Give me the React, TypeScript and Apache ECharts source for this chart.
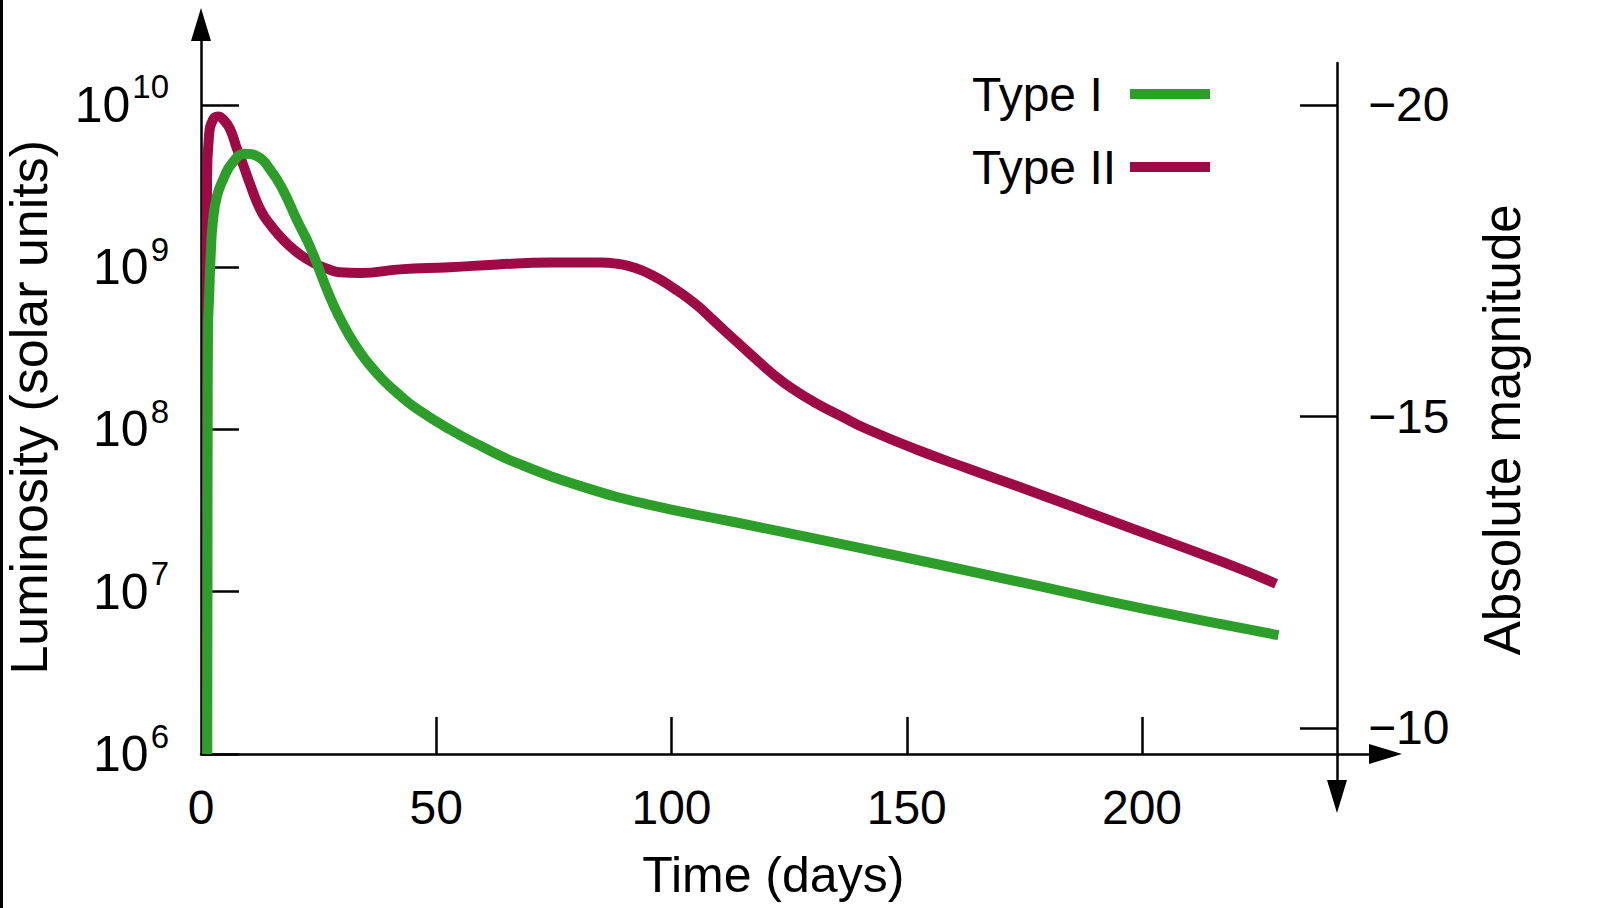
import React, { useEffect, useRef } from 'react';
import * as echarts from 'echarts';

// ---- data (days, luminosity in solar units) ----
const typeIDays = [1.3, 1.35, 1.4, 1.5, 1.7, 2.1, 2.55, 3.4, 4.7, 6.6, 9.35, 12.1, 14.7, 17.4, 20.4, 23.2, 27.4, 29.5, 31.7, 33.8, 35.9, 38.7, 42.3, 45.9, 52.9, 59.9, 67.2, 81.2, 95.4, 113, 130, 150, 174, 200, 229];
const typeILum = [1.0e6, 1.0e7, 1.0e8, 4.3e8, 6.3e8, 1.26e9, 1.95e9, 2.75e9, 3.47e9, 4.37e9, 5.0e9, 4.8e9, 4.0e9, 3.0e9, 1.95e9, 1.33e9, 6.56e8, 4.86e8, 3.72e8, 2.99e8, 2.49e8, 2.02e8, 1.62e8, 1.34e8, 1.0e8, 7.8e7, 6.2e7, 4.43e7, 3.43e7, 2.7e7, 2.14e7, 1.62e7, 1.15e7, 7.9e6, 5.4e6];

const typeIIDays = [1.3, 1.3, 1.28, 1.28, 1.7, 2.55, 3.6, 4.9, 6.2, 7.65, 8.9, 10.4, 11.9, 13, 14, 16.2, 18.5, 21, 24, 26.8, 29.5, 33.8, 42.3, 52.9, 63, 74.2, 84.8, 88.5, 91.8, 96, 100.5, 105, 109, 113.3, 117.5, 122, 126, 130.6, 136, 141.4, 152.2, 163, 174, 196, 217.5, 228.5];
const typeIILum = [1.0e6, 1.0e8, 1.1e9, 3.47e9, 6.46e9, 8.13e9, 8.5e9, 8.04e9, 7.08e9, 5.37e9, 4.32e9, 3.27e9, 2.51e9, 2.16e9, 1.95e9, 1.62e9, 1.38e9, 1.2e9, 1.06e9, 9.8e8, 9.3e8, 9.2e8, 9.7e8, 1.0e9, 1.04e9, 1.07e9, 1.07e9, 1.05e9, 1.0e9, 8.9e8, 7.41e8, 5.96e8, 4.68e8, 3.59e8, 2.79e8, 2.14e8, 1.76e8, 1.46e8, 1.21e8, 1.01e8, 7.5e7, 5.75e7, 4.42e7, 2.57e7, 1.51e7, 1.12e7];

const seriesNames = ['Type I', 'Type II'];
const timeTickValues = [50, 100, 150, 200];
const timeLabelValues = [0, 50, 100, 150, 200];
const luminosityTicks = [1e6, 1e7, 1e8, 1e9, 1e10];
const magnitudeTicks = [-20, -15, -10];

const FONT = "'Liberation Sans', Arial, Helvetica, sans-serif";
const GREEN = '#2e9e2b';
const RED = '#9e0a45';
const INK = '#000000';

export default function App() {
  const ref = useRef<HTMLDivElement>(null);

  useEffect(() => {
    if (!ref.current) return;
    const chart = echarts.init(ref.current, null, { renderer: 'svg' });

    const option: any = {
      animation: false,
      backgroundColor: '#ffffff',
      textStyle: { fontFamily: FONT, color: INK },
      graphic: [
        { type: 'rect', left: 0, top: 0, shape: { width: 3, height: 908 }, style: { fill: '#000' }, silent: true },
      ],
      legend: {
        orient: 'vertical',
        left: 967,
        top: 65,
        align: 'right',
        icon: 'rect',
        itemWidth: 80,
        itemHeight: 10,
        itemGap: 25,
        selectedMode: false,
        data: seriesNames,
        formatter: (n: string) => `{t|${n}}`,
        textStyle: {
          color: INK,
          fontFamily: FONT,
          fontSize: 48,
          rich: {
            t: { width: 153, align: 'left', fontSize: 48, lineHeight: 50, fontFamily: FONT, color: INK },
          },
        },
      },
      grid: [
        { left: 201, top: 24.5, width: 1184.5, height: 729.5, containLabel: false, outerBoundsMode: 'none' },
        { left: 1290, top: 63, width: 47, height: 733.5, containLabel: false, outerBoundsMode: 'none' },
      ],
      xAxis: [
        {
          gridIndex: 0,
          type: 'value',
          min: 0,
          max: 251.75,
          name: 'Time (days)',
          nameLocation: 'middle',
          nameGap: 96,
          nameMoveOverlap: false,
          nameTextStyle: { fontSize: 50, fontFamily: FONT, color: INK, padding: [0, 40, 0, 0] },
          axisLine: { show: true, onZero: false, lineStyle: { color: INK, width: 2.5 }, symbol: ['none', 'triangle'], symbolSize: [20, 33] },
          axisTick: { show: true, inside: true, length: 37, customValues: timeTickValues, lineStyle: { color: INK, width: 2.5 } },
          axisLabel: { show: true, margin: 29, fontSize: 48, fontFamily: FONT, color: INK, customValues: timeLabelValues },
          splitLine: { show: false },
        },
        { gridIndex: 1, type: 'value', min: 0, max: 1, show: false },
      ],
      yAxis: [
        {
          gridIndex: 0,
          type: 'log',
          logBase: 10,
          position: 'left',
          min: 1e6,
          max: 3.133e10,
          name: 'Luminosity (solar units)',
          nameLocation: 'middle',
          nameGap: 146,
          nameRotate: 90,
          nameMoveOverlap: false,
          nameTextStyle: { fontSize: 52, fontFamily: FONT, color: INK, padding: [0, 36, 0, 0] },
          axisLine: { show: true, onZero: false, lineStyle: { color: INK, width: 2.5 }, symbol: ['none', 'triangle'], symbolSize: [20, 33] },
          axisTick: { show: true, inside: true, length: 38, customValues: luminosityTicks, lineStyle: { color: INK, width: 2.5 } },
          axisLabel: {
            show: true,
            margin: 32,
            customValues: luminosityTicks,
            formatter: (v: number) => `{b|10}{e|${Math.round(Math.log10(v))}}`,
            rich: {
              b: { fontSize: 50, lineHeight: 69, fontFamily: FONT, color: INK, verticalAlign: 'middle' },
              e: { fontSize: 33, lineHeight: 33, fontFamily: FONT, color: INK, verticalAlign: 'top', padding: [0, 0, 0, 2] },
            },
          },
          splitLine: { show: false },
        },
        {
          gridIndex: 1,
          type: 'value',
          position: 'right',
          // axis value = −(absolute magnitude), so −20 sits at the top
          min: 8.9,
          max: 20.674,
          name: 'Absolute magnitude',
          nameLocation: 'middle',
          nameGap: 140,
          nameRotate: 90,
          nameMoveOverlap: false,
          nameTextStyle: { fontSize: 51, fontFamily: FONT, color: INK },
          axisLine: { show: true, onZero: false, lineStyle: { color: INK, width: 2.5 }, symbol: ['triangle', 'none'], symbolSize: [20, 33] },
          axisTick: { show: true, inside: true, length: 37, customValues: magnitudeTicks.map((m) => -m), lineStyle: { color: INK, width: 2.5 } },
          axisLabel: {
            show: true,
            margin: 31,
            fontSize: 48,
            fontFamily: FONT,
            color: INK,
            padding: [0, 0, 16, 0],
            customValues: magnitudeTicks.map((m) => -m),
            formatter: (v: number) => '\u2212' + v,
          },
          splitLine: { show: false },
        },
      ],
      series: [
        {
          name: 'Type II',
          type: 'line',
          xAxisIndex: 0,
          yAxisIndex: 0,
          data: typeIIDays.map((d, i) => [d, typeIILum[i]]),
          symbol: 'none',
          showSymbol: false,
          smooth: 0.5,
          lineStyle: { color: RED, width: 10, join: 'round' },
          itemStyle: { color: RED },
          z: 2,
        },
        {
          name: 'Type I',
          type: 'line',
          xAxisIndex: 0,
          yAxisIndex: 0,
          data: typeIDays.map((d, i) => [d, typeILum[i]]),
          symbol: 'none',
          showSymbol: false,
          smooth: 0.5,
          lineStyle: { color: GREEN, width: 10, join: 'round' },
          itemStyle: { color: GREEN },
          z: 3,
        },
      ],
    };

    chart.setOption(option);
    return () => chart.dispose();
  }, []);

  return (
    <div
      ref={ref}
      style={{ position: 'fixed', left: 0, top: 0, width: '1600px', height: '908px', background: '#fff' }}
    />
  );
}
